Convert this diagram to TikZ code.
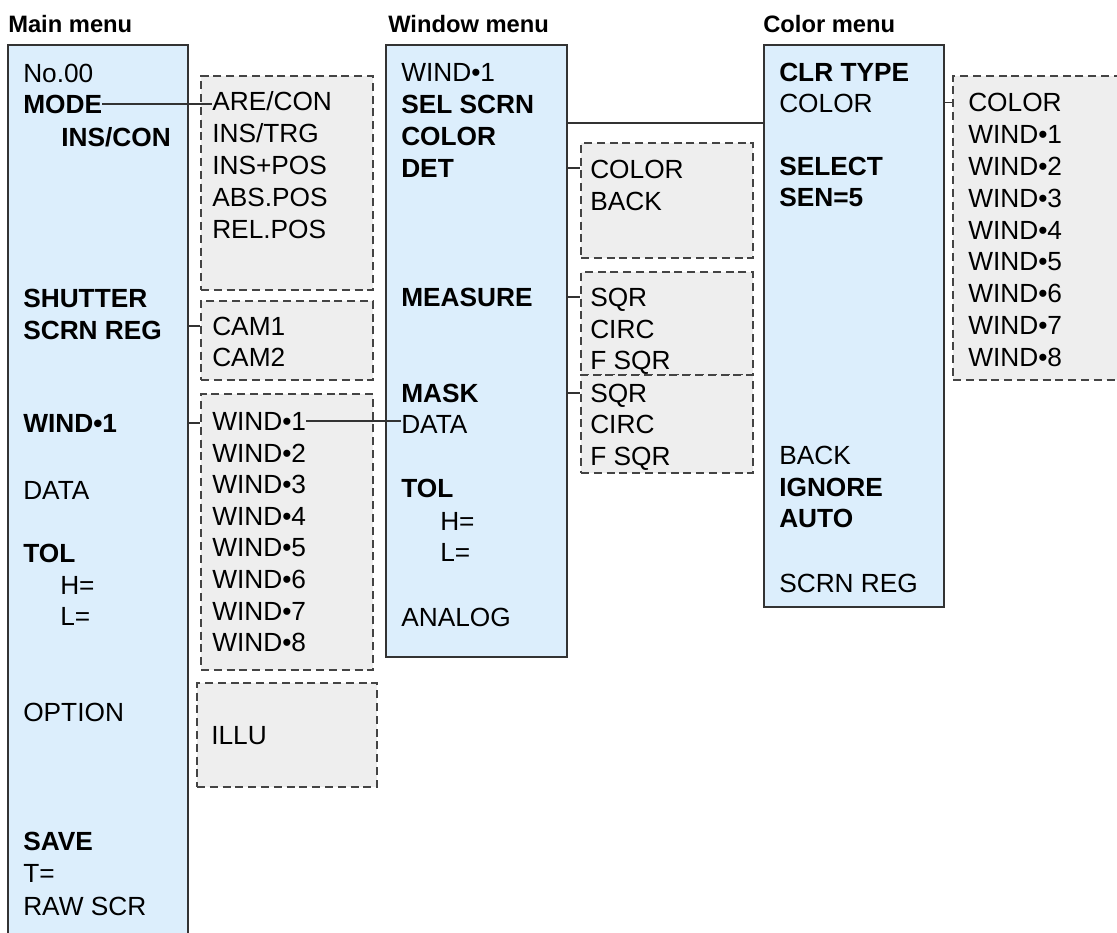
\documentclass[tikz,border=0pt]{standalone}
\usepackage{fontspec}
\setmainfont{Liberation Sans}
\usetikzlibrary{fit}
\definecolor{menublue}{HTML}{DCEEFC}
\definecolor{subgray}{HTML}{EEEEEE}
\definecolor{edgecol}{HTML}{333333}
\definecolor{dashcol}{HTML}{444444}
\newcommand\mfont{\fontsize{19.7pt}{23pt}\selectfont}
\newcommand\tfont{\fontsize{17.8pt}{21pt}\selectfont}
\begin{document}
\begin{tikzpicture}[x=0.75pt,y=-0.75pt,
  menubox/.style={draw=edgecol, fill=menublue, line width=0.9pt, inner sep=0pt},
  subbox/.style={draw=dashcol, fill=subgray, dash pattern=on 6pt off 3.6pt, line width=0.8pt, inner sep=0pt},
  item/.style={anchor=west, inner sep=0pt, font=\mfont, text height=14.1pt, text depth=0pt},
  bitem/.style={item, font=\mfont\bfseries},
  title/.style={anchor=west, inner sep=0pt, font=\tfont\bfseries, text height=12.7pt, text depth=0pt},
  link/.style={draw=edgecol, line width=0.8pt}]
\useasboundingbox (0,0) rectangle (1117,932);
\clip (0,0) rectangle (1117,932);

% titles
\node[title] (tmain) at (8,24.5) {Main menu};
\node[title] (twin) at (388,24.5) {Window menu};
\node[title] (tclr) at (763,24.5) {Color menu};

% menu boxes
\node[menubox, fit={(8,45) (188,945)}] (mbox) {};
\node[menubox, fit={(386,45) (567,657)}] (wbox) {};
\node[menubox, fit={(764,45) (944,607)}] (cbox) {};

% sub boxes
\node[subbox, fit={(201,76) (373,290)}] (subA) {};
\node[subbox, fit={(201,301) (373,380)}] (subB) {};
\node[subbox, fit={(201,394) (373,670)}] (subC) {};
\node[subbox, fit={(197,683) (377,787)}] (subD) {};
\node[subbox, fit={(581,143) (753,258)}] (subE) {};
\node[subbox, fit={(581,272) (753,375)}] (subF) {};
\node[subbox, fit={(581,375) (753,473)}] (subG) {};
\node[subbox, fit={(953,76) (1135,380)}] (subH) {};

% main menu items
\node[item]  (n00)     at (23,73)  {No.00};
\node[bitem] (mode)    at (23,104) {MODE};
\node[bitem] (inscon)  at (61,137) {INS/CON};
\node[bitem] (shutter) at (23,298) {SHUTTER};
\node[bitem] (mscrn)   at (23,330) {SCRN REG};
\node[bitem] (mwind)   at (23,423) {WIND•1};
\node[item]  (mdata)   at (23,490) {DATA};
\node[bitem] (mtol)    at (23,553) {TOL};
\node[item]  (mh)      at (60,585) {H=};
\node[item]  (ml)      at (60,616) {L=};
\node[item]  (mopt)    at (23,712) {OPTION};
\node[bitem] (msave)   at (23,841) {SAVE};
\node[item]  (mt)      at (23,873) {T=};
\node[item]  (mraw)    at (23,906) {RAW SCR};

% sub A
\node[item] (arecon) at (212,101) {ARE/CON};
\node[item] (instrg) at (212,133) {INS/TRG};
\node[item] (inspos) at (212,165) {INS+POS};
\node[item] (abspos) at (212,197) {ABS.POS};
\node[item] (relpos) at (212,229) {REL.POS};
% sub B
\node[item] (cam1) at (212,326) {CAM1};
\node[item] (cam2) at (212,357) {CAM2};
% sub C
\node[item] (cw1) at (212,421)   {WIND•1};
\node[item] (cw2) at (212,452.6) {WIND•2};
\node[item] (cw3) at (212,484.2) {WIND•3};
\node[item] (cw4) at (212,515.8) {WIND•4};
\node[item] (cw5) at (212,547.4) {WIND•5};
\node[item] (cw6) at (212,579)   {WIND•6};
\node[item] (cw7) at (212,610.6) {WIND•7};
\node[item] (cw8) at (212,642.2) {WIND•8};
% sub D
\node[item] (illu) at (211,735) {ILLU};

% window menu items
\node[item]  (wwind)   at (401,72)  {WIND•1};
\node[bitem] (wsel)    at (401,104) {SEL SCRN};
\node[bitem] (wcolor)  at (401,136) {COLOR};
\node[bitem] (wdet)    at (401,168) {DET};
\node[bitem] (wmeas)   at (401,297) {MEASURE};
\node[bitem] (wmask)   at (401,393) {MASK};
\node[item]  (wdata)   at (401,424) {DATA};
\node[bitem] (wtol)    at (401,488) {TOL};
\node[item]  (wh)      at (440,521) {H=};
\node[item]  (wl)      at (440,552) {L=};
\node[item]  (wanalog) at (401,617) {ANALOG};

% sub E, F, G
\node[item] (ecolor) at (590,169) {COLOR};
\node[item] (eback)  at (590,201) {BACK};
\node[item] (fsqr)   at (590,297) {SQR};
\node[item] (fcirc)  at (590,329) {CIRC};
\node[item] (ffsqr)  at (590,360) {F SQR};
\node[item] (gsqr)   at (590,393) {SQR};
\node[item] (gcirc)  at (590,424) {CIRC};
\node[item] (gfsqr)  at (590,456) {F SQR};

% color menu items
\node[bitem] (clrtype) at (779,72)  {CLR TYPE};
\node[item]  (ccolor)  at (779,103) {COLOR};
\node[bitem] (cselect) at (779,166) {SELECT};
\node[bitem] (csen)    at (779,197) {SEN=5};
\node[item]  (cback)   at (779,455) {BACK};
\node[bitem] (cignore) at (779,487) {IGNORE};
\node[bitem] (cauto)   at (779,518) {AUTO};
\node[item]  (cscrn)   at (779,583) {SCRN REG};

% sub H
\node[item] (hcolor) at (968,102.5) {COLOR};
\node[item] (hw1) at (968,134.3) {WIND•1};
\node[item] (hw2) at (968,166.1) {WIND•2};
\node[item] (hw3) at (968,197.9) {WIND•3};
\node[item] (hw4) at (968,229.7) {WIND•4};
\node[item] (hw5) at (968,261.5) {WIND•5};
\node[item] (hw6) at (968,293.3) {WIND•6};
\node[item] (hw7) at (968,325.1) {WIND•7};
\node[item] (hw8) at (968,356.9) {WIND•8};

% connectors
\coordinate (selY) at (0,123);
\draw[link] (mode.east) -- (mode.east -| arecon.west);
\draw[link] (cw1.east) -- (cw1.east -| wdata.west);
\draw[link] (wbox.east |- selY) -- (cbox.west |- selY);

% ticks
\draw[link] (mbox.east |- cam1.west) -- (subB.west |- cam1.west);
\draw[link] (mbox.east |- mwind.west) -- (subC.west |- mwind.west);
\draw[link] (wbox.east |- wdet.west) -- (subE.west |- wdet.west);
\draw[link] (wbox.east |- wmeas.west) -- (subF.west |- wmeas.west);
\draw[link] (wbox.east |- wmask.west) -- (subG.west |- wmask.west);
\draw[link] (cbox.east |- hcolor.west) -- (subH.west |- hcolor.west);
\end{tikzpicture}
\end{document}
